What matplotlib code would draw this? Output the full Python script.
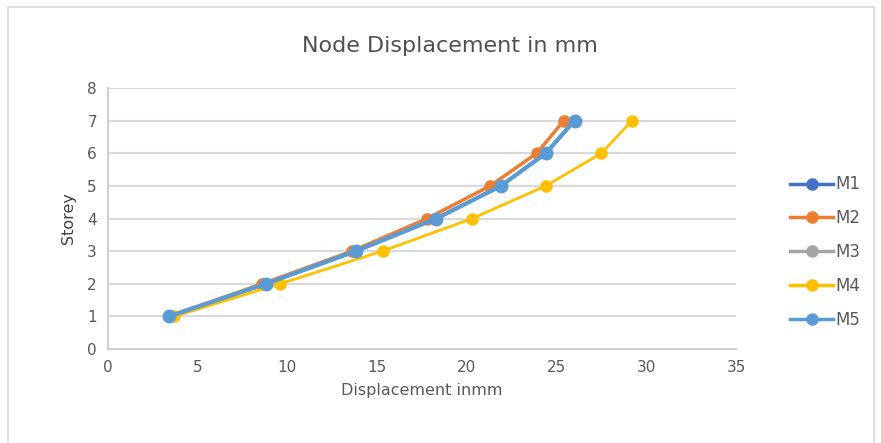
import matplotlib
matplotlib.use("Agg")
import matplotlib.pyplot as plt
from matplotlib.lines import Line2D

storeys = [1, 2, 3, 4, 5, 6, 7]
m1 = [3.4, 8.8, 13.8, 18.3, 21.9, 24.4, 26.0]
m2 = [3.4, 8.6, 13.6, 17.8, 21.3, 23.9, 25.4]
m3 = [3.4, 8.8, 13.8, 18.3, 21.9, 24.4, 26.0]
m4 = [3.7, 9.6, 15.3, 20.3, 24.4, 27.5, 29.2]
m5 = [3.4, 8.8, 13.8, 18.3, 21.9, 24.4, 26.0]
series_names = ["M1", "M2", "M3", "M4", "M5"]
colors = ["#4472C4", "#ED7D31", "#A5A5A5", "#FFC000", "#5B9BD5"]
widths = [2.5, 2.5, 2.5, 2.0, 3.0]
msizes = [8, 8, 8, 8, 9]

fig = plt.figure(figsize=(8.81, 4.43), dpi=100)
ax = fig.add_axes([108/881, 1-349/443, (736-108)/881, (349-88)/443])

for name, vals, c, w, ms in zip(series_names, [m1, m2, m3, m4, m5], colors, widths, msizes):
    ax.plot(vals, storeys, color=c, lw=w, marker="o", ms=ms, label=name,
            solid_capstyle="round", solid_joinstyle="round")

ax.set_xlim(0, 35)
ax.set_ylim(0, 8)
ax.set_xticks(range(0, 36, 5))
ax.set_yticks(range(0, 9))
ax.grid(axis="y", color="#D9D9D9", lw=1.5)
ax.set_axisbelow(True)
for s in ["top", "right"]:
    ax.spines[s].set_visible(False)
for s in ["left", "bottom"]:
    ax.spines[s].set_color("#D0D0D0")
    ax.spines[s].set_linewidth(1.5)
ax.tick_params(length=0, colors="#595959", labelsize=11, pad=8)
ax.set_xlabel("Displacement inmm", color="#595959", fontsize=11.5, labelpad=6)
ax.set_ylabel("Storey", color="#404040", fontsize=11.5, labelpad=8)
fig.suptitle("Node Displacement in mm", x=450/881, y=1-46/443, va="center",
             color="#505050", fontsize=16)

handles = [Line2D([], [], color=c, lw=2.5, marker="o", ms=8) for c in colors]
leg = fig.legend(handles, series_names, loc="center left",
                 bbox_to_anchor=(775/881, 1-252/443), frameon=False,
                 fontsize=12, labelcolor="#595959", handlelength=2.6,
                 handletextpad=0.1, labelspacing=0.95)

border = plt.Rectangle((8/881, -0.05), (874-8)/881, 1-7/443+0.05,
                       transform=fig.transFigure, fill=False,
                       edgecolor="#D9D9D9", lw=1.2)
fig.add_artist(border)

fig.savefig("out.png", dpi=100)
